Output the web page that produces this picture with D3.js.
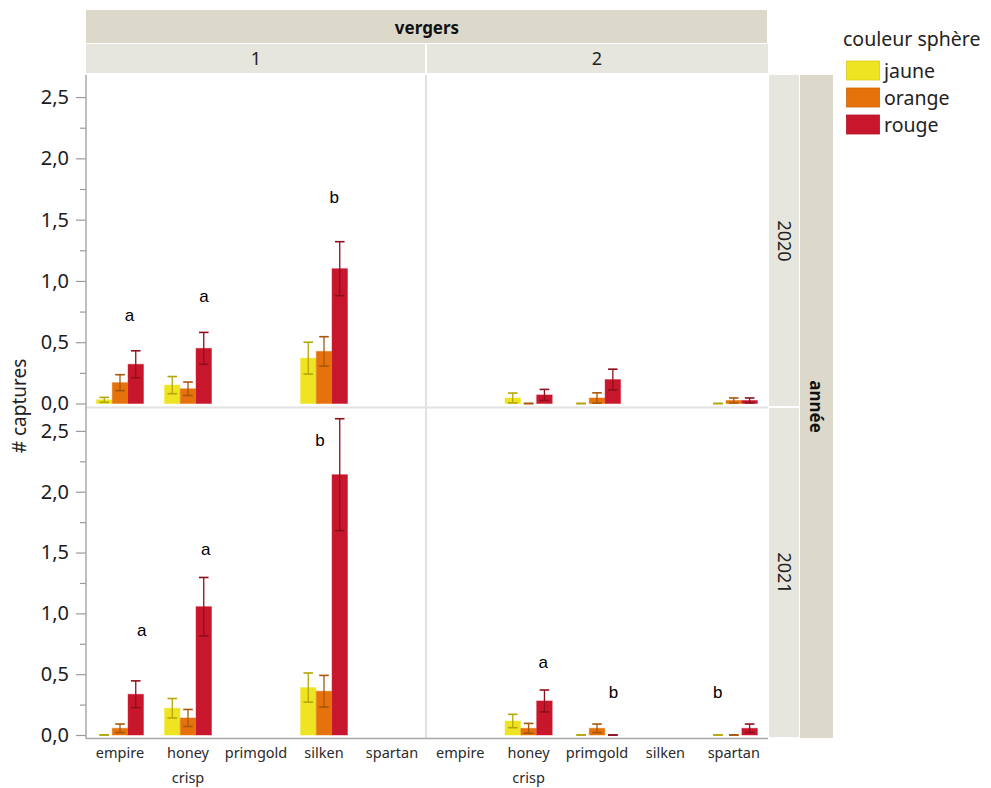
<!DOCTYPE html>
<html><head><meta charset="utf-8">
<script src="https://cdn.jsdelivr.net/npm/d3@7"></script>
<style>
html,body{margin:0;padding:0;background:#fff;}
svg{display:block;}
</style></head>
<body><svg id="chart" width="991" height="788"></svg>
<script>
// ---------- DATA ----------
const annees = ["2020", "2021"];
const vergers = ["1", "2"];
const cultivars = ["empire", "honey crisp", "primgold", "silken", "spartan"];
const couleurs = ["jaune", "orange", "rouge"];
const yTicks = [0, 0.5, 1.0, 1.5, 2.0, 2.5];

// means: rows = jaune, orange, rouge ; columns = cultivars (null = no data)
const moy2020v1 = [[0.03, 0.15, null, 0.37, null], [0.17, 0.12, null, 0.425, null], [0.32, 0.45, null, 1.10, null]];
const err2020v1 = [[0.02, 0.07, null, 0.13, null], [0.065, 0.055, null, 0.12, null], [0.11, 0.13, null, 0.22, null]];
const moy2020v2 = [[null, 0.045, 0, null, 0], [null, 0, 0.045, null, 0.025], [null, 0.07, 0.195, null, 0.025]];
const err2020v2 = [[null, 0.04, 0, null, 0], [null, 0, 0.042, null, 0.02], [null, 0.045, 0.085, null, 0.02]];
const moy2021v1 = [[0, 0.22, null, 0.39, null], [0.055, 0.14, null, 0.36, null], [0.335, 1.055, null, 2.14, null]];
const err2021v1 = [[0, 0.08, null, 0.12, null], [0.035, 0.07, null, 0.13, null], [0.11, 0.24, null, 0.46, null]];
const moy2021v2 = [[null, 0.115, 0, null, 0], [null, 0.055, 0.055, null, 0], [null, 0.28, 0, null, 0.055]];
const err2021v2 = [[null, 0.055, 0, null, 0], [null, 0.04, 0.035, null, 0], [null, 0.09, 0, null, 0.035]];

// significance letters: annee, verger, cultivar, letter, height (data units)
const lettres = [
  ["2020", "1", "empire", "a", 0.714], ["2020", "1", "honey crisp", "a", 0.875], ["2020", "1", "silken", "b", 1.684],
  ["2021", "1", "empire", "a", 0.855], ["2021", "1", "honey crisp", "a", 1.528], ["2021", "1", "silken", "b", 2.424],
  ["2021", "2", "honey crisp", "a", 0.597], ["2021", "2", "primgold", "b", 0.348], ["2021", "2", "spartan", "b", 0.348]
];
// horizontal offset of each letter from the cultivar centre (fraction of band step)
const lettreDx = [0.14, 0.235, 0.15, 0.32, 0.26, -0.06, 0.215, 0.24, -0.235];

const panneaux = {
  "2020|1": [moy2020v1, err2020v1], "2020|2": [moy2020v2, err2020v2],
  "2021|1": [moy2021v1, err2021v1], "2021|2": [moy2021v2, err2021v2]
};

// ---------- STYLE ----------
const fillCol = {jaune: "#eee421", orange: "#e5720a", rouge: "#c8172c"};
const errCol = {jaune: "#b3a60a", orange: "#a8560c", rouge: "#8e0f1d"};
const stripOuter = "#dcd9cb", stripInner = "#e7e6de";
const uiFont = "'Noto Sans', 'Open Sans', sans-serif";

const svg = d3.select("#chart");
const plotL = 86, plotR = 768, divX = 426;
const rows = {"2020": {top: 75, zero: 403.5}, "2021": {top: 409, zero: 735}};
const colsX = {"1": [plotL, divX], "2": [divX, plotR]};
const yMax = 2.68;

// ---------- STRIPS ----------
svg.append("rect").attr("x", plotL).attr("y", 10).attr("width", plotR - plotL - 1).attr("height", 33).attr("fill", stripOuter);
svg.append("text").attr("x", (plotL + plotR) / 2).attr("y", 27).attr("text-anchor", "middle").attr("dominant-baseline", "central")
  .attr("font-family", uiFont).attr("font-weight", "bold").attr("font-size", 17).attr("fill", "#111").text("vergers");
vergers.forEach(v => {
  const [a, b] = colsX[v];
  svg.append("rect").attr("x", a + (v === "2" ? 1 : 0)).attr("y", 44).attr("width", b - a - 1).attr("height", 29).attr("fill", stripInner);
  svg.append("text").attr("x", (a + b) / 2).attr("y", 58).attr("text-anchor", "middle").attr("dominant-baseline", "central")
    .attr("font-family", uiFont).attr("font-size", 18).attr("fill", "#222").text(v);
});
svg.append("rect").attr("x", 800).attr("y", 75).attr("width", 33).attr("height", 663).attr("fill", stripOuter);
svg.append("text").attr("transform", `translate(816,${(75 + 738) / 2}) rotate(90)`).attr("text-anchor", "middle").attr("dominant-baseline", "central")
  .attr("font-family", uiFont).attr("font-weight", "bold").attr("font-size", 17).attr("fill", "#111").text("année");
annees.forEach(an => {
  const t = an === "2020" ? 75 : 408;
  const b = an === "2020" ? 407 : 738;
  svg.append("rect").attr("x", 769).attr("y", t).attr("width", 30).attr("height", b - t - 1).attr("fill", stripInner);
  svg.append("text").attr("transform", `translate(785,${(t + b) / 2}) rotate(90)`).attr("text-anchor", "middle").attr("dominant-baseline", "central")
    .attr("font-family", uiFont).attr("font-size", 18).attr("fill", "#222").text(an);
});

// ---------- GRID FRAME ----------
svg.append("line").attr("x1", divX).attr("x2", divX).attr("y1", 75).attr("y2", 738).attr("stroke", "#e2e2e2").attr("stroke-width", 2);
svg.append("line").attr("x1", plotL).attr("x2", plotR).attr("y1", 407.5).attr("y2", 407.5).attr("stroke", "#e2e2e2").attr("stroke-width", 2);
svg.append("line").attr("x1", plotL).attr("x2", plotR).attr("y1", 738.5).attr("y2", 738.5).attr("stroke", "#a8a8a8").attr("stroke-width", 1.5);

// ---------- Y AXES ----------
const yScales = {};
annees.forEach(an => {
  const r = rows[an];
  const y = d3.scaleLinear().domain([0, yMax]).range([r.zero, r.top]);
  yScales[an] = y;
  const axis = d3.axisLeft(y).tickValues(yTicks).tickSize(10).tickPadding(7)
    .tickFormat(d => d3.format(".1f")(d).replace(".", ","));
  const g = svg.append("g").attr("transform", `translate(${plotL},0)`).call(axis);
  g.select(".domain").remove();
  g.selectAll(".tick line").attr("stroke", "#9a9a9a").attr("stroke-width", 1.2);
  g.selectAll(".tick text").attr("font-family", uiFont).attr("font-size", 20).attr("fill", "#1c1c1c");
  const minor = d3.axisLeft(y).tickValues(d3.range(0.25, 2.6, 0.5)).tickSize(6).tickFormat("");
  const gm = svg.append("g").attr("transform", `translate(${plotL},0)`).call(minor);
  gm.select(".domain").remove();
  gm.selectAll(".tick line").attr("stroke", "#9a9a9a").attr("stroke-width", 1.2);
});
svg.append("line").attr("x1", plotL).attr("x2", plotL).attr("y1", 75).attr("y2", 739).attr("stroke", "#a8a8a8").attr("stroke-width", 1.5);

svg.append("text").attr("transform", `translate(19,${406}) rotate(-90)`).attr("text-anchor", "middle").attr("dominant-baseline", "central")
  .attr("font-family", uiFont).attr("font-size", 19).attr("fill", "#222").text("# captures");

// ---------- BARS ----------
const xScales = {};
vergers.forEach(v => {
  const x0 = d3.scaleBand().domain(cultivars).range(colsX[v]).paddingInner(0.31).paddingOuter(0.155);
  xScales[v] = x0;
  const x1 = d3.scaleBand().domain(couleurs).range([0, x0.bandwidth()]).paddingInner(0.02);
  annees.forEach(an => {
    const y = yScales[an];
    const [moy, err] = panneaux[an + "|" + v];
    const data = [];
    couleurs.forEach((c, ci) => cultivars.forEach((cv, k) => {
      if (moy[ci][k] !== null) data.push({c, cv, m: moy[ci][k], e: err[ci][k]});
    }));
    const g = svg.append("g");
    g.selectAll("rect.bar").data(data.filter(d => d.m > 0)).join("rect").attr("class", "bar")
      .attr("x", d => x0(d.cv) + x1(d.c)).attr("width", x1.bandwidth())
      .attr("y", d => y(d.m)).attr("height", d => y(0) - y(d.m))
      .attr("fill", d => fillCol[d.c]).attr("stroke", d => fillCol[d.c]).attr("stroke-opacity", 0.45).attr("stroke-width", 1);
    const cw = 4.8;
    const eb = g.selectAll("g.err").data(data).join("g").attr("class", "err")
      .attr("transform", d => `translate(${x0(d.cv) + x1(d.c) + x1.bandwidth() / 2},0)`);
    eb.append("line").attr("y1", d => y(d.m + d.e)).attr("y2", d => y(Math.max(0, d.m - d.e)))
      .attr("stroke", d => errCol[d.c]).attr("stroke-width", 1.3);
    eb.append("line").attr("x1", -cw).attr("x2", cw).attr("y1", d => y(d.m + d.e)).attr("y2", d => y(d.m + d.e))
      .attr("stroke", d => errCol[d.c]).attr("stroke-width", 1.6);
    eb.append("line").attr("x1", -cw).attr("x2", cw).attr("y1", d => y(Math.max(0, d.m - d.e))).attr("y2", d => y(Math.max(0, d.m - d.e)))
      .attr("stroke", d => errCol[d.c]).attr("stroke-width", 1.6);
  });
  // category labels
  cultivars.forEach(cv => {
    const cx = x0(cv) + x0.bandwidth() / 2;
    const parts = cv.split(" ");
    parts.forEach((p, i) => {
      svg.append("text").attr("x", cx).attr("y", 752 + i * 25).attr("text-anchor", "middle").attr("dominant-baseline", "central")
        .attr("font-family", uiFont).attr("font-size", 14.5).attr("fill", "#2a2a2a").text(p);
    });
  });
});

// ---------- LETTERS ----------
lettres.forEach((l, i) => {
  const [an, v, cv, txt, h] = l;
  const x0 = xScales[v];
  const cx = x0(cv) + x0.bandwidth() / 2 + lettreDx[i] * x0.step();
  svg.append("text").attr("x", cx).attr("y", yScales[an](h)).attr("text-anchor", "middle").attr("dominant-baseline", "central")
    .attr("font-family", "'Liberation Sans', Arial, sans-serif").attr("font-size", 17).attr("fill", "#000").text(txt);
});

// ---------- LEGEND ----------
svg.append("text").attr("x", 843).attr("y", 38).attr("dominant-baseline", "central")
  .attr("font-family", uiFont).attr("font-size", 19.5).attr("fill", "#222").text("couleur sphère");
couleurs.forEach((c, i) => {
  const yy = 61 + i * 27;
  svg.append("rect").attr("x", 846.5).attr("y", yy).attr("width", 33).attr("height", 19)
    .attr("fill", fillCol[c]).attr("stroke", d3.color(fillCol[c]).darker(0.3)).attr("stroke-width", 0.8);
  svg.append("text").attr("x", 884).attr("y", yy + 9.5).attr("dominant-baseline", "central")
    .attr("font-family", uiFont).attr("font-size", 19.5).attr("fill", "#222").text(c);
});
</script></body></html>
